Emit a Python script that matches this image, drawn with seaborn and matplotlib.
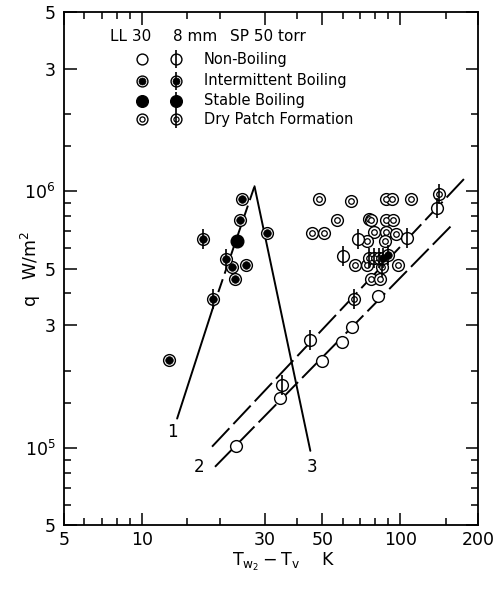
import numpy as np
import pandas as pd
import matplotlib
matplotlib.use("Agg")
import matplotlib.pyplot as plt
import seaborn as sns
from matplotlib.ticker import FixedLocator, FixedFormatter, NullFormatter

# ---------------- data ----------------
# Non-Boiling (plain / with vertical bar)
nb_x = [34.2, 23.2, 49.9, 59.6, 65.2, 81.9]
nb_q = [1.56e5, 1.02e5, 2.17e5, 2.58e5, 2.97e5, 3.90e5]
nbl_x = [34.9, 44.9, 60.1, 68.5, 106.5, 138.3]
nbl_q = [1.76e5, 2.62e5, 5.57e5, 6.53e5, 6.57e5, 8.62e5]

# Intermittent Boiling
ib_x = [24.4, 24.0, 30.5, 22.3, 25.3, 22.9, 12.7]
ib_q = [9.3e5, 7.75e5, 6.87e5, 5.09e5, 5.17e5, 4.53e5, 2.19e5]
ibl_x = [17.2, 21.2, 18.9, 86.0, 89.6]
ibl_q = [6.53e5, 5.46e5, 3.79e5, 5.51e5, 5.62e5]

# Stable Boiling
sb_x = [23.4]
sb_q = [6.42e5]

# Dry Patch Formation
dp_x = [48.5, 64.6, 88.5, 93.1, 110.4, 56.7, 75.6, 77.4, 88.5, 94.0,
        45.6, 50.9, 79.0, 88.5, 95.9, 74.5, 87.7, 67.1, 74.5, 97.9,
        77.2, 83.4]
dp_q = [9.35e5, 9.16e5, 9.35e5, 9.35e5, 9.35e5, 7.75e5, 7.82e5, 7.75e5, 7.75e5, 7.7e5,
        6.87e5, 6.87e5, 6.93e5, 6.93e5, 6.84e5, 6.38e5, 6.38e5, 5.14e5, 5.17e5, 5.17e5,
        4.53e5, 4.53e5]
dpl_x = [140.8, 85.2, 66.1, 75.6, 79.0, 82.6]
dpl_q = [9.78e5, 5.06e5, 3.79e5, 5.51e5, 5.51e5, 5.51e5]

# Correlation lines
line1_solid_x = [13.7, 18.7]
line1_solid_q = [1.30e5, 3.43e5]
line1_dash_x = [18.7, 27.3]
line1_dash_q = [3.43e5, 1.046e6]
line3_x = [27.3, 44.9]
line3_q = [1.046e6, 9.73e4]
line2u_x = [18.7, 177.6]
line2u_q = [1.01e5, 1.124e6]
line2l_x = [19.2, 161.0]
line2l_q = [8.43e4, 7.5e5]

line_labels = ["1", "2", "3"]
line_label_x = [13.1, 16.7, 45.7]
line_label_q = [1.15e5, 8.43e4, 8.43e4]

legend_labels = ["Non-Boiling", "Intermittent Boiling", "Stable Boiling", "Dry Patch Formation"]
header = ["LL 30", "8 mm", "SP 50 torr"]

x_major = [5, 10, 30, 50, 100, 200]
x_major_lbl = ["5", "10", "30", "50", "100", "200"]
x_minor = [6, 7, 8, 9, 15, 20, 40, 60, 70, 80, 90, 150]
y_major = [5e4, 1e5, 3e5, 5e5, 1e6, 3e6, 5e6]
y_major_lbl = ["5", "$10^5$", "3", "5", "$10^6$", "3", "5"]
y_minor = [6e4, 7e4, 8e4, 9e4, 1.5e5, 2e5, 4e5, 6e5, 7e5, 8e5, 9e5, 1.5e6, 2e6]

# ---------------- styling ----------------
sns.set_style("ticks")
plt.rcParams['font.family'] = ['DejaVu Sans']
plt.rcParams['mathtext.fontset'] = 'dejavusans'
for k in ['text.color', 'axes.labelcolor', 'xtick.color', 'ytick.color', 'axes.edgecolor']:
    plt.rcParams[k] = 'black'

fig = plt.figure(figsize=(4.97, 5.90), dpi=100)
ax = fig.add_axes([64 / 497, 1 - 525 / 590, 414 / 497, 513 / 590])
ax.set_xscale('log')
ax.set_yscale('log')
ax.set_xlim(5, 200)
ax.set_ylim(5e4, 5e6)

K = 'black'
LW = 1.4

# lines
sns.lineplot(x=line1_solid_x, y=line1_solid_q, ax=ax, color=K, lw=LW, zorder=1)
sns.lineplot(x=line1_dash_x, y=line1_dash_q, ax=ax, color=K, lw=LW, zorder=1)
ax.lines[-1].set_dashes((7, 3))
sns.lineplot(x=line3_x, y=line3_q, ax=ax, color=K, lw=LW, zorder=1)
sns.lineplot(x=line2u_x, y=line2u_q, ax=ax, color=K, lw=LW, zorder=1)
ax.lines[-1].set_dashes((13, 3))
sns.lineplot(x=line2l_x, y=line2l_q, ax=ax, color=K, lw=LW, zorder=1)
ax.lines[-1].set_dashes((13, 3))

for t, x, y in zip(line_labels, line_label_x, line_label_q):
    ax.text(x, y, t, fontsize=12, ha='center', va='center')

S_OUT = 72
S_IN_OPEN = 16
S_IN_DOT = 30
S_BAR = 210


def draw(xs, qs, kind, bar, ax, transform=None, scale=1.0):
    kw = {}
    if transform is not None:
        kw['transform'] = transform
    if len(xs) == 0:
        return
    if kind == 'stable':
        sns.scatterplot(x=xs, y=qs, ax=ax, marker='o', s=S_OUT * 1.15 * scale, color=K,
                        edgecolor=K, linewidth=1.0, zorder=3, **kw)
    else:
        sns.scatterplot(x=xs, y=qs, ax=ax, marker='o', s=S_OUT * scale, color='white',
                        edgecolor=K, linewidth=1.0, zorder=3, **kw)
        if kind == 'dry':
            sns.scatterplot(x=xs, y=qs, ax=ax, marker='o', s=S_IN_OPEN * scale, color='white',
                            edgecolor=K, linewidth=0.9, zorder=4, **kw)
        elif kind == 'inter':
            sns.scatterplot(x=xs, y=qs, ax=ax, marker='o', s=S_IN_DOT * scale, color=K,
                            edgecolor=K, linewidth=0.5, zorder=4, **kw)
    if bar:
        sns.scatterplot(x=xs, y=qs, ax=ax, marker='|', s=S_BAR * scale, color=K,
                        linewidth=1.2, zorder=5, **kw)


draw(dp_x, dp_q, 'dry', False, ax)
draw(dpl_x, dpl_q, 'dry', True, ax)
draw(nb_x, nb_q, 'open', False, ax)
draw(nbl_x, nbl_q, 'open', True, ax)
draw(ib_x, ib_q, 'inter', False, ax)
draw(ibl_x, ibl_q, 'inter', True, ax)
draw(sb_x, sb_q, 'stable', False, ax)

# legend (axes coordinates)
kinds = ['open', 'inter', 'stable', 'dry']
rows_y = [0.9078, 0.8661, 0.827, 0.7908]
for kind, yy, lab in zip(kinds, rows_y, legend_labels):
    draw([0.1877], [yy], kind, False, ax, transform=ax.transAxes, scale=0.85)
    draw([0.2705], [yy], kind, True, ax, transform=ax.transAxes, scale=0.85)
    ax.text(0.3374, yy, lab, transform=ax.transAxes, fontsize=10.5, va='center', ha='left')
for t, xx in zip(header, [0.111, 0.263, 0.401]):
    ax.text(xx, 0.9519, t, transform=ax.transAxes, fontsize=11, va='center', ha='left')

# ticks
ax.xaxis.set_major_locator(FixedLocator(x_major))
ax.xaxis.set_major_formatter(FixedFormatter(x_major_lbl))
ax.xaxis.set_minor_locator(FixedLocator(x_minor))
ax.xaxis.set_minor_formatter(NullFormatter())
ax.yaxis.set_major_locator(FixedLocator(y_major))
ax.yaxis.set_major_formatter(FixedFormatter(y_major_lbl))
ax.yaxis.set_minor_locator(FixedLocator(y_minor))
ax.yaxis.set_minor_formatter(NullFormatter())
ax.tick_params(which='both', direction='in', top=True, right=True, width=1.1,
               labelsize=12.5, pad=6, colors='black')
ax.tick_params(axis='x', which='both', pad=4)
ax.tick_params(which='major', length=9)
ax.tick_params(which='minor', length=5)
for s in ax.spines.values():
    s.set_linewidth(1.3)
    s.set_color('black')

ax.set_xlabel(r"$\mathrm{T_{w_2} - T_v}$    K", fontsize=12.5)
ax.xaxis.set_label_coords(0.53, -0.05)
ax.set_ylabel("q   W/m$^2$", fontsize=12.5)
ax.yaxis.set_label_coords(-0.05, 0.5)

fig.savefig("out.png", dpi=100)
